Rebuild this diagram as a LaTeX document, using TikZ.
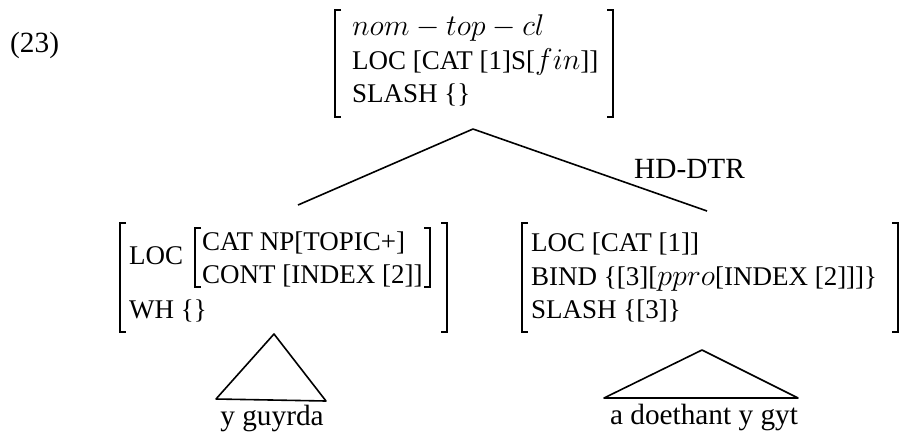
\documentclass[tikz,border=0pt]{standalone}
\usepackage{fix-cm}
\usepackage{fontspec}
\setmainfont{Liberation Serif}
\newcommand{\avmit}[1]{{\fontsize{30}{31}\selectfont$#1$}}
\begin{document}
\begin{tikzpicture}[x=1pt,y=-1pt,
  avm/.style={anchor=base west,inner sep=0pt,font=\fontsize{27}{31}\selectfont},
  tms/.style={inner sep=0pt,font=\fontsize{29.3}{33}\selectfont},
  brk/.style={line width=1.6pt,line join=miter},
  edge/.style={line width=1.6pt,line join=round}]
\useasboundingbox (0,0) rectangle (901,432);
% example number
\node[tms,anchor=base west] (num) at (10,52) {(23)};
% top AVM
\node[avm] (t1) at (352,35) {\avmit{nom - top - cl}};
\node[avm] (t2) at (352,69) {LOC [CAT [1]S[\avmit{fin}]]};
\node[avm] (t3) at (352,102) {SLASH \{\}};
\draw[brk] (341,10) -- (335,10) -- (335,117) -- (341,117);
\draw[brk] (607,10) -- (613,10) -- (613,117) -- (607,117);
\coordinate (topm) at (473,129);
% left AVM
\node[avm] (l1) at (129,264) {LOC};
\node[avm] (l2) at (202,250) {CAT NP[TOPIC+]};
\node[avm] (l3) at (202,283) {CONT [INDEX [2]]};
\node[avm] (l4) at (129,318) {WH \{\}};
\draw[brk] (126,223) -- (120,223) -- (120,332) -- (126,332);
\draw[brk] (441,223) -- (447,223) -- (447,332) -- (441,332);
\draw[brk] (201,228) -- (195,228) -- (195,287) -- (201,287);
\draw[brk] (424,228) -- (430,228) -- (430,287) -- (424,287);
\coordinate (leftm) at (298,205);
% right AVM
\node[avm] (r1) at (531,251) {LOC [CAT [1]]};
\node[avm] (r2) at (531,285) {BIND \{[3][\avmit{ppro}[INDEX [2]]]\}};
\node[avm] (r3) at (531,318) {SLASH \{[3]\}};
\draw[brk] (528,223) -- (522,223) -- (522,332) -- (528,332);
\draw[brk] (892,223) -- (898,223) -- (898,332) -- (892,332);
\coordinate (rightm) at (707,211);
% tree branches
\draw[edge] (leftm) -- (topm) -- (rightm);
\node[tms,anchor=base west] (hd) at (634,178) {HD-DTR};
% left triangle
\coordinate (la) at (274,334);
\coordinate (lb1) at (216,399);
\coordinate (lb2) at (326,401);
\draw[edge] (la) -- (lb1) -- (lb2) -- cycle;
\node[tms,anchor=base] (yg) at (272,425) {y guyrda};
% right triangle
\coordinate (ra) at (702,350);
\coordinate (rb1) at (604,398);
\coordinate (rb2) at (798,398);
\draw[edge] (ra) -- (rb1) -- (rb2) -- cycle;
\node[tms,anchor=base] (dg) at (704,424) {a doethant y gyt};
\end{tikzpicture}
\end{document}
